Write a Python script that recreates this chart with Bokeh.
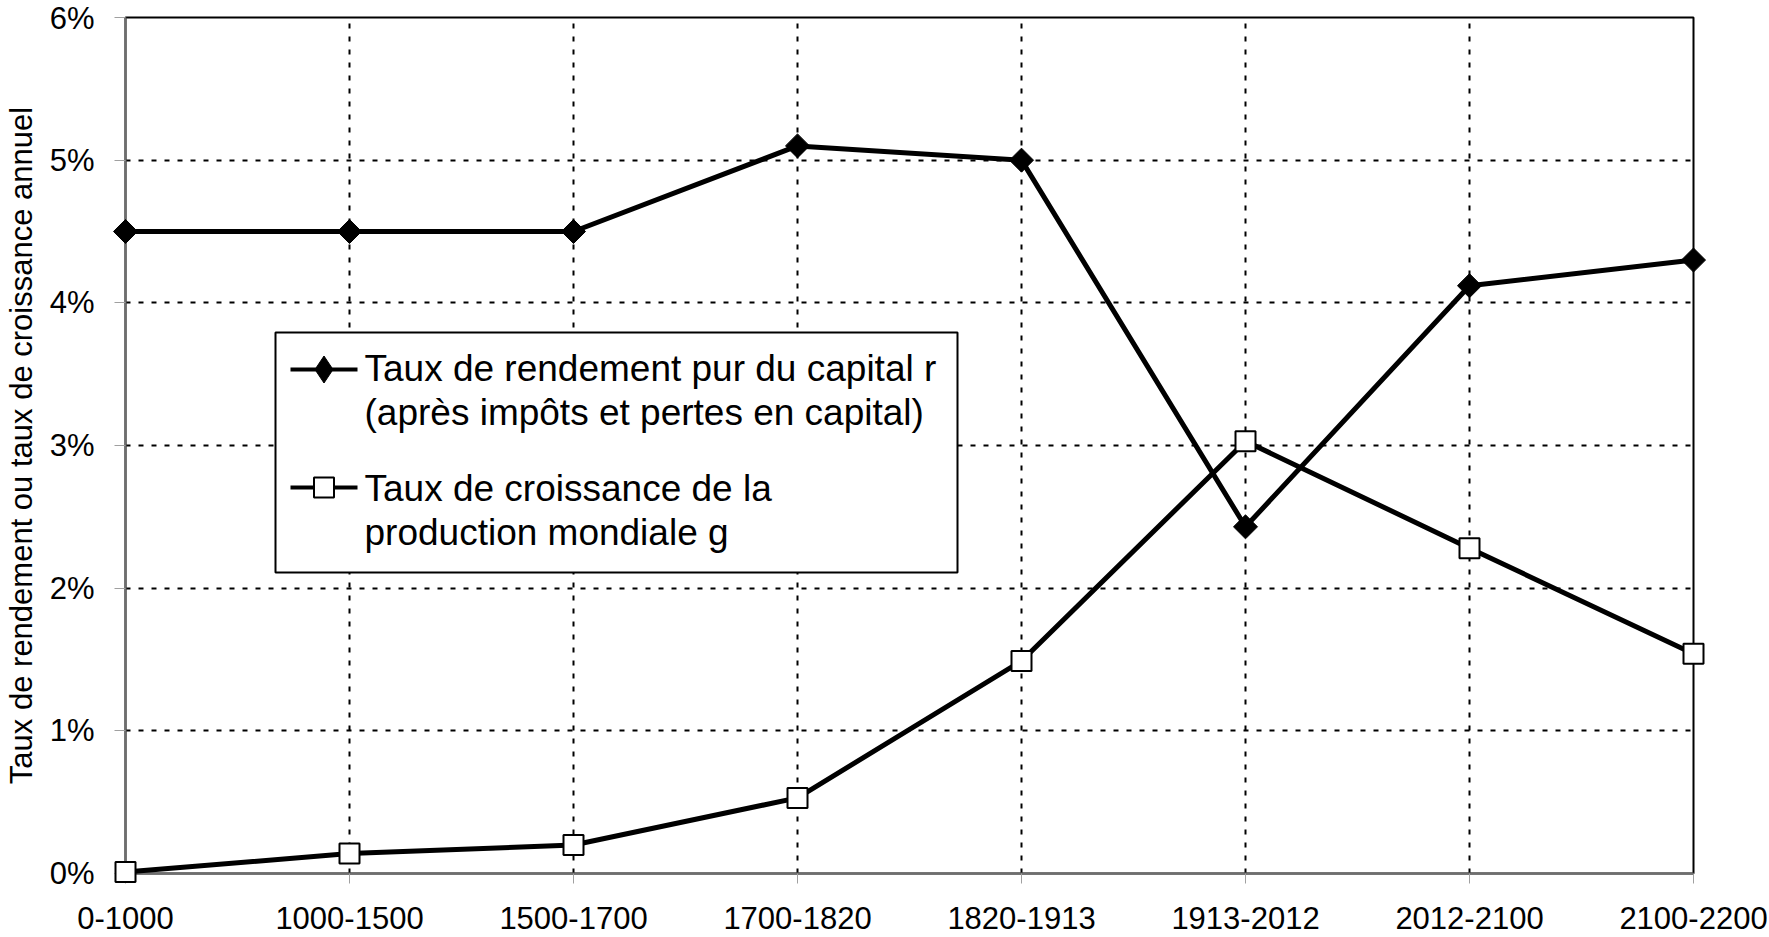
import numpy as np
from bokeh.plotting import figure
from bokeh.models import Range1d, FixedTicker
from bokeh.core.properties import value
from bokeh.embed import file_html
from bokeh.resources import INLINE

# ---------------- data ----------------
periods = ["0-1000", "1000-1500", "1500-1700", "1700-1820", "1820-1913",
           "1913-2012", "2012-2100", "2100-2200"]
r_values = [4.5, 4.5, 4.5, 5.1, 5.0, 2.43, 4.12, 4.3]
g_values = [0.01, 0.14, 0.2, 0.53, 1.49, 3.03, 2.28, 1.54]
y_ticks = [0, 1, 2, 3, 4, 5, 6]
r_label = ["Taux de rendement pur du capital r", "(après impôts et pertes en capital)"]
g_label = ["Taux de croissance de la", "production mondiale g"]
y_label = "Taux de rendement ou taux de croissance annuel"

# ---------------- layout / style ----------------
FONT = "Liberation Sans"
W, H = 1767, 937
B_LEFT, B_RIGHT, B_TOP, B_BOTTOM = 125, 74, 17, 64
FRAME_W = W - B_LEFT - B_RIGHT
FRAME_H = H - B_TOP - B_BOTTOM
X_LABEL_OFFSET = 44          # px below the plot area (centre of category labels)

# legend layout in frame pixels (origin = top-left of the plot area)
LEG_BOX = dict(left=150, right=832, top=315, bottom=555)
LEG_GLYPH_X0, LEG_GLYPH_X1 = 165, 232
LEG_ROW_Y = [352, 470]
LEG_TEXT_X = 239
LEG_TEXT_Y = [[351, 395], [471, 515]]

x = list(range(len(periods)))

p = figure(width=W, height=H, output_backend="svg", toolbar_location=None,
           x_range=Range1d(0, len(periods) - 1), y_range=Range1d(y_ticks[0], y_ticks[-1]),
           min_border_left=B_LEFT, min_border_right=B_RIGHT,
           min_border_top=B_TOP, min_border_bottom=B_BOTTOM)
p.extra_x_ranges = {"px": Range1d(0, FRAME_W)}
p.extra_y_ranges = {"px": Range1d(FRAME_H, 0)}

p.background_fill_color = "white"
p.border_fill_color = "white"
p.outline_line_color = "black"
p.outline_line_width = 2

# axes
p.xaxis.ticker = FixedTicker(ticks=x)
p.xaxis.major_label_overrides = {i: "" for i in x}
p.xaxis.major_label_text_font_size = "0px"
p.yaxis.ticker = FixedTicker(ticks=y_ticks)
p.yaxis.major_label_overrides = {t: f"{t}%" for t in y_ticks}
for ax in (p.xaxis, p.yaxis):
    ax.axis_line_color = "#6e6e6e"
    ax.axis_line_width = 2
    ax.major_tick_line_color = "#a0a0a0"
    ax.major_tick_line_width = 1
    ax.major_tick_in = 0
    ax.minor_tick_line_color = None
    ax.major_label_text_font = FONT
    ax.major_label_text_color = "black"
p.yaxis.major_label_text_font_size = "31px"
p.yaxis.major_tick_out = 11
p.xaxis.major_tick_out = 10
p.yaxis.major_label_standoff = 20
p.yaxis.axis_label = y_label
p.yaxis.axis_label_text_font = FONT
p.yaxis.axis_label_text_font_size = "31px"
p.yaxis.axis_label_text_font_style = "normal"
p.yaxis.axis_label_text_color = "black"
p.yaxis.axis_label_standoff = 8

# category labels under the plot area
p.text(x=x, y=[FRAME_H + X_LABEL_OFFSET] * len(x), text=periods,
       text_font=value(FONT), text_font_size="31px", text_color="black",
       text_align="center", text_baseline="middle",
       y_range_name="px", level="overlay")

# grids
for g in (p.xgrid, p.ygrid):
    g.grid_line_color = "black"
    g.grid_line_width = 2
    g.grid_line_dash = "5 8"
p.xgrid.ticker = FixedTicker(ticks=x)
p.ygrid.ticker = FixedTicker(ticks=y_ticks)

# ---------------- series (overlay level: edge markers overhang the frame) ----------------
l1 = p.line(x, r_values, line_color="black", line_width=5, level="overlay")
s1 = p.scatter(x, r_values, marker="square", angle=np.pi / 4, size=17,
               fill_color="black", line_color="black", line_width=1, level="overlay")
l2 = p.line(x, g_values, line_color="black", line_width=5, level="overlay")
s2 = p.scatter(x, g_values, marker="square", size=20,
               fill_color="white", line_color="black", line_width=2, level="overlay")

# ---------------- legend ----------------
p.quad(left=[LEG_BOX["left"]], right=[LEG_BOX["right"]],
       top=[LEG_BOX["top"]], bottom=[LEG_BOX["bottom"]],
       fill_color="white", line_color="black", line_width=2,
       x_range_name="px", y_range_name="px")
p.segment(x0=[LEG_GLYPH_X0] * 2, x1=[LEG_GLYPH_X1] * 2, y0=LEG_ROW_Y, y1=LEG_ROW_Y,
          line_color="black", line_width=4, x_range_name="px", y_range_name="px")
gx = (LEG_GLYPH_X0 + LEG_GLYPH_X1) / 2
p.scatter(x=[gx], y=[LEG_ROW_Y[0]], marker="diamond", size=27,
          fill_color="black", line_color="black", x_range_name="px", y_range_name="px")
p.scatter(x=[gx], y=[LEG_ROW_Y[1]], marker="square", size=20,
          fill_color="white", line_color="black", line_width=2,
          x_range_name="px", y_range_name="px")
texts = r_label + g_label
ys = LEG_TEXT_Y[0] + LEG_TEXT_Y[1]
p.text(x=[LEG_TEXT_X] * len(texts), y=ys, text=texts,
       text_font=value(FONT), text_font_size="37px", text_color="black",
       text_align="left", text_baseline="middle",
       x_range_name="px", y_range_name="px")

open("out.html", "w").write(file_html(p, INLINE))
